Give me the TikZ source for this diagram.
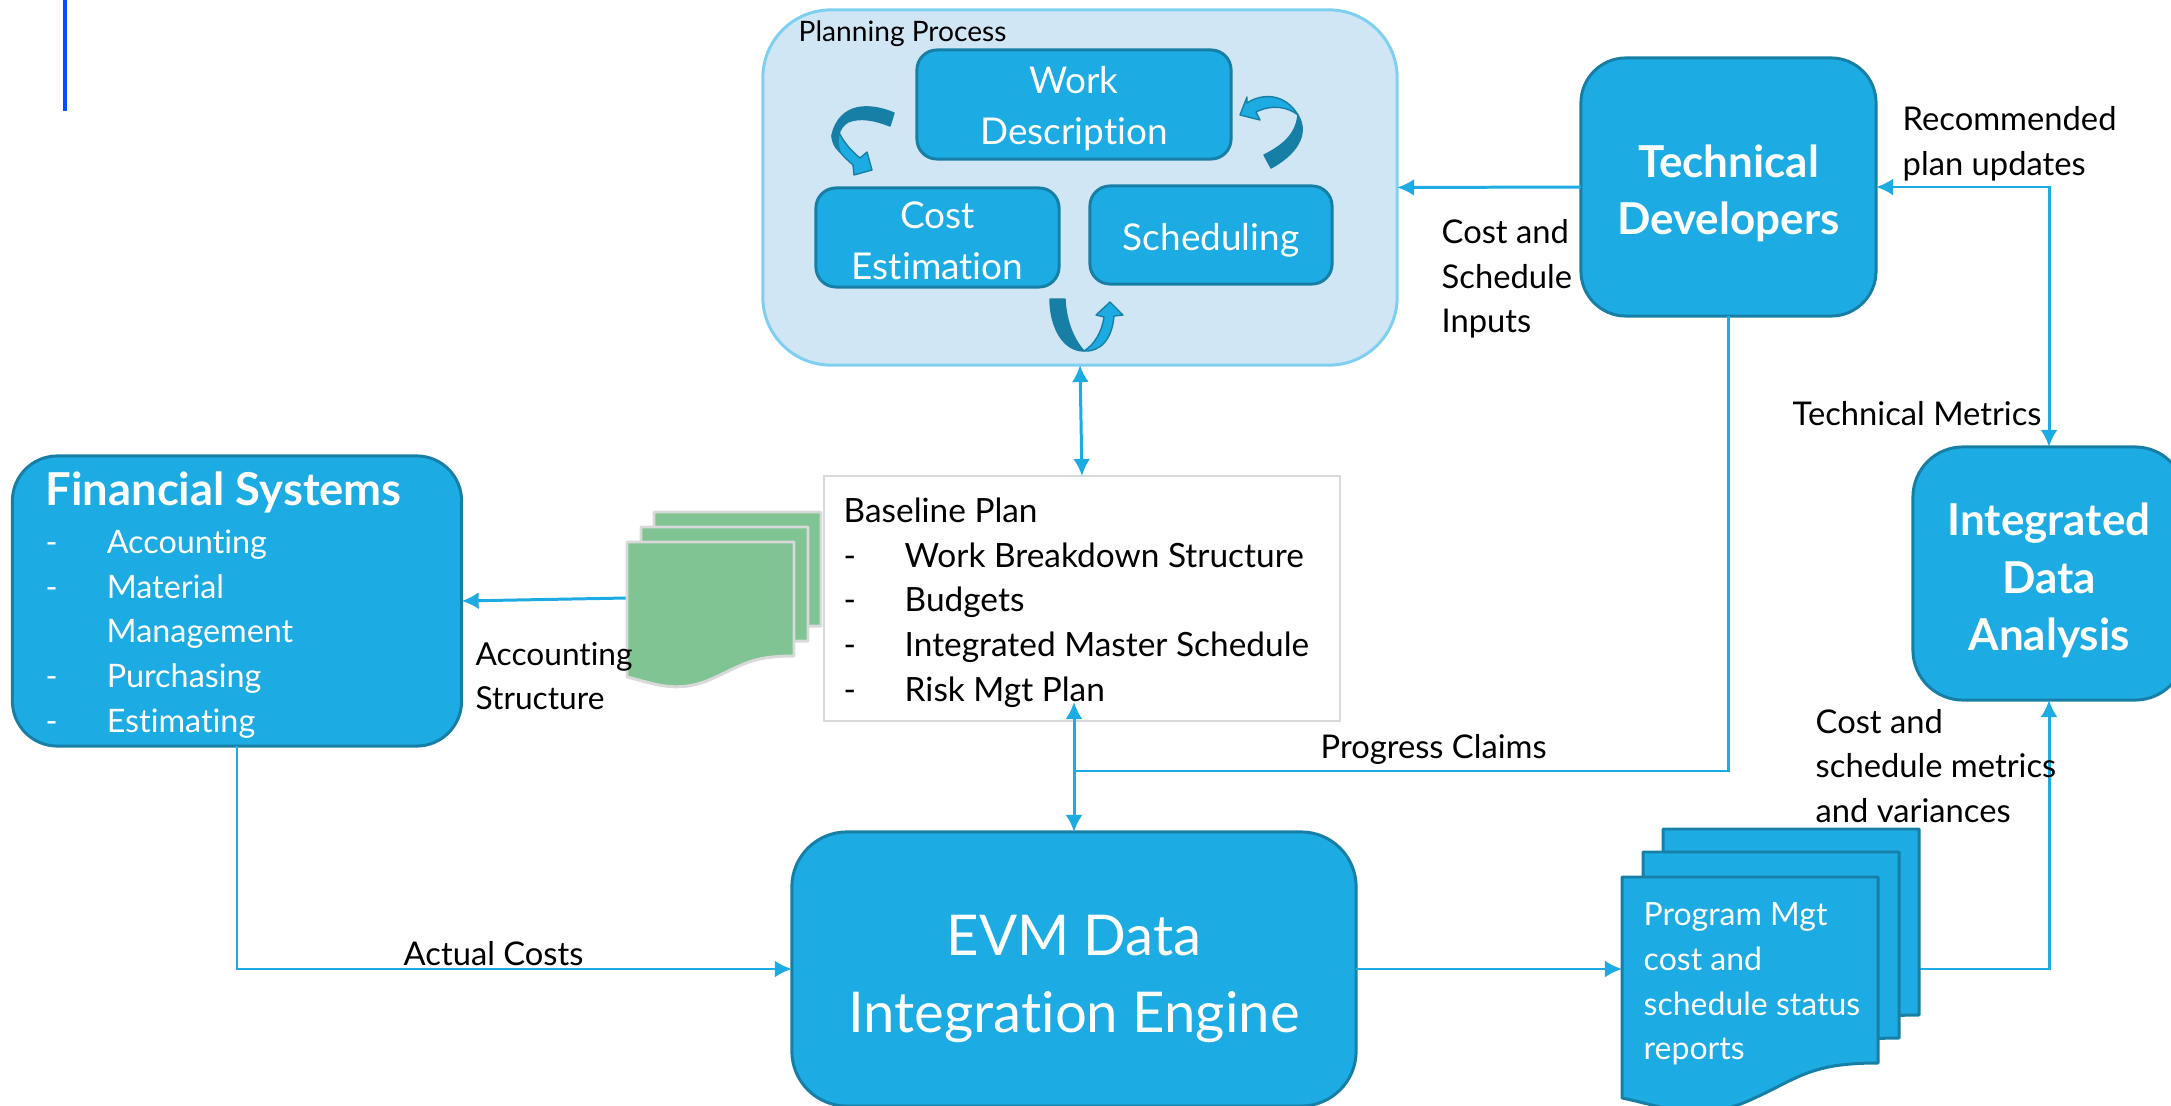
\documentclass[tikz,border=0pt]{standalone}
\usepackage{fontspec}
\setmainfont{Lato}[Ligatures=NoCommon]
\usetikzlibrary{arrows.meta}
\definecolor{boxblue}{HTML}{1CABE2}
\definecolor{boxedge}{HTML}{177FA6}
\definecolor{paleblue}{HTML}{D1E6F5}
\definecolor{paleedge}{HTML}{7FD0F0}
\definecolor{docgreen}{HTML}{7FC492}
\definecolor{docedge}{HTML}{D9D9D9}
\newcommand{\dashitem}[1]{\makebox[.61cm][l]{-}#1}
\tikzset{
    >={Latex[length=1.7mm,width=1.7mm]},
    bluebox/.style={draw=boxedge, fill=boxblue, line width=0.85pt, inner sep=0pt, outer sep=0pt},
    boxtext/.style={text=white, align=center, inner sep=0pt},
    flow/.style={draw=boxblue, line width=0.85pt},
    lbl/.style={anchor=west, align=left, inner sep=0pt, font=\fontsize{9.3}{12.7}\selectfont},
    bluedoc/.style={draw=boxedge, fill=boxblue, line width=0.85pt, line join=round},
    greendoc/.style={draw=docedge, fill=docgreen, line width=0.85pt, line join=round},
    twistdark/.style={draw=boxedge, fill=boxedge, line width=0.4pt, line join=round},
    twistlight/.style={draw=boxedge, fill=boxblue, line width=0.4pt, line join=round}
}
\begin{document}
\begin{tikzpicture}[x=0.01cm,y=-0.01cm]
        \clip (0,0) rectangle (2171,1106);

        \draw[draw=blue!70!cyan, line width=0.9pt] (65,0) -- (65,111);

        \node[draw=paleedge, fill=paleblue, line width=0.85pt, outer sep=0pt, rounded corners=0.68cm, minimum width=6.34cm, minimum height=3.55cm] (planning) at (1080,187.5) {};
        \node[lbl, font=\fontsize{8}{10}\selectfont] (planninglbl) at (798,34) {Planning Process};

        \node[bluebox, rounded corners=0.2cm, minimum width=3.14cm, minimum height=1.09cm] (work) at (1074,104.5) {};
        \node[boxtext, font=\fontsize{10.5}{14.5}\selectfont] (worktxt) at (1074,108.5) {Work\\Description};
        \node[bluebox, rounded corners=0.2cm, minimum width=2.43cm, minimum height=0.99cm] (cost) at (937.5,237.5) {};
        \node[boxtext, font=\fontsize{10.5}{14.5}\selectfont] (costtxt) at (937.5,240.5) {Cost\\Estimation};
        \node[bluebox, rounded corners=0.2cm, minimum width=2.42cm, minimum height=0.98cm] (sched) at (1211,235) {};
        \node[boxtext, font=\fontsize{10.5}{14.5}\selectfont] (schedtxt) at (1211,240) {Scheduling};

        \draw[twistlight] (832,136) .. controls (834,148) and (845,158) .. (853,165) -- (854,175) -- (872,170) -- (867,152) -- (860,158) .. controls (850,150) and (842,140) .. (838,130) -- cycle;
        \draw[twistdark] (894,113) .. controls (870,103) and (840,102) .. (832,135) .. controls (832,142) and (835,148) .. (840,152) .. controls (836,140) and (838,128) .. (848,122) .. controls (860,117) and (875,120) .. (890,126) -- cycle;
        \draw[twistlight] (1247,103) .. controls (1262,93) and (1285,93) .. (1298,115) .. controls (1288,107) and (1272,104) .. (1256,112) -- (1260,120) -- (1240,115) -- (1247,97) -- cycle;
        \draw[twistdark] (1298,115) .. controls (1310,135) and (1295,155) .. (1271,168) -- (1264,155) .. controls (1282,146) and (1296,135) .. (1298,115) -- cycle;
        \draw[twistlight] (1084,351) .. controls (1100,352) and (1112,340) .. (1114,316) -- (1123,315) -- (1110,302) -- (1096,315) -- (1104,317) .. controls (1102,332) and (1094,345) .. (1084,351) -- cycle;
        \draw[twistdark] (1050,299) .. controls (1050,325) and (1062,351) .. (1084,351) .. controls (1074,340) and (1066,322) .. (1065,299) -- cycle;

        \node[bluebox, rounded corners=0.45cm, minimum width=2.95cm, minimum height=2.58cm] (tech) at (1728.5,187) {};
        \node[boxtext, font=\fontsize{12.5}{16.2}\selectfont\bfseries] (techtxt) at (1728.5,193) {Technical\\Developers};
        \node[bluebox, rounded corners=0.5cm, minimum width=2.72cm, minimum height=2.53cm] (data) at (2049,573.5) {};
        \node[boxtext, font=\fontsize{12.5}{16.4}\selectfont\bfseries] (datatxt) at (2049,580.5) {Integrated\\Data\\Analysis};
        \node[bluebox, rounded corners=0.55cm, minimum width=5.64cm, minimum height=2.74cm] (evm) at (1074,969) {};
        \node[boxtext, font=\fontsize{16}{22}\selectfont] (evmtxt) at (1074,979) {EVM Data\\Integration Engine};
        \node[bluebox, rounded corners=0.45cm, minimum width=4.49cm, minimum height=2.9cm] (fin) at (237,601) {};
        \node[boxtext, anchor=west, align=left, font=\fontsize{9.2}{12.7}\selectfont] (fintxt) at (45,605) {{\fontsize{12.9}{14}\selectfont\bfseries Financial Systems}\\[1pt]
            \dashitem{Accounting}\\
            \dashitem{Material}\\
            \hspace*{.61cm}Management\\
            \dashitem{Purchasing}\\
            \dashitem{Estimating}};
        \node[draw=docedge, fill=white, line width=0.6pt, outer sep=0pt, minimum width=5.16cm, minimum height=2.45cm] (base) at (1082,598.5) {};
        \node[anchor=west, align=left, inner sep=0pt, font=\fontsize{9.5}{12.7}\selectfont] (basetxt) at (843,602.5) {Baseline Plan\\
            \dashitem{Work Breakdown Structure}\\
            \dashitem{Budgets}\\
            \dashitem{Integrated Master Schedule}\\
            \dashitem{Risk Mgt Plan}};

        \coordinate (basein) at (1074,702);
        \coordinate (claims) at (1074,771);
        \coordinate (acctdoc) at (627,598);
        \coordinate (repin) at (1622,969);
        \coordinate (repout) at (1919,969);
        \coordinate (techdata) at (2049,187);

        \draw[flow,->] (tech.west) -- (planning.east);
        \draw[flow,<->] (planning.south) -- (base.north);
        \draw[flow,<->] (basein) -- (evm.north);
        \draw[flow] (tech.south) |- (claims);
        \draw[flow,->] (acctdoc) -- (fin.east);
        \draw[flow,->] (fin.south) |- (evm.west);
        \draw[flow,->] (evm.east) -- (repin);
        \draw[flow,->] (repout) -| (data.south);
        \draw[flow,<->] (tech.east) -- (techdata) -- (data.north);

        \foreach \x/\y in {654/512,641/527,627/542}
            \draw[greendoc] (\x,\y) -- ++(167,0) -- ++(0,114) .. controls +(-45,0) and +(33,-14) .. ++(-85,24) .. controls +(-33,14) and +(25,6) .. ++(-82,-3) -- cycle;
        \foreach \x/\y in {1663/829,1643/852,1622/877}
            \draw[bluedoc] (\x,\y) -- ++(256,0) -- ++(0,186) .. controls +(-70,0) and +(50,-22) .. ++(-130,38) .. controls +(-50,22) and +(40,8) .. ++(-126,-3) -- cycle;

        \node[lbl, text=white, font=\fontsize{9.1}{12.7}\selectfont] (report) at (1643,984) {Program Mgt\\cost and\\schedule status\\reports};
        \node[lbl] (recommend) at (1902,144) {Recommended\\plan updates};
        \node[lbl] (inputs) at (1441,279) {Cost and\\Schedule\\Inputs};
        \node[lbl] (metrics) at (1792,414) {Technical Metrics};
        \node[lbl, font=\fontsize{9}{12.7}\selectfont] (acct) at (475,676) {Accounting\\Structure};
        \node[lbl] (progress) at (1320,749) {Progress Claims};
        \node[lbl] (actual) at (403,954) {Actual Costs};
        \node[lbl] (variances) at (1815,766) {Cost and\\schedule metrics\\and variances};

\end{tikzpicture}
\end{document}
